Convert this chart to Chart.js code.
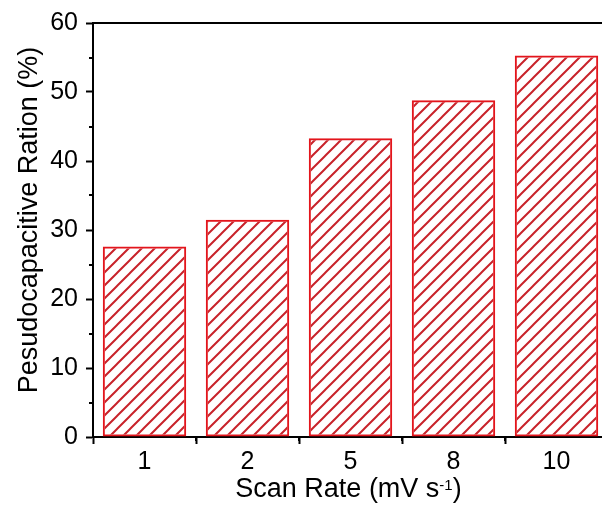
<!DOCTYPE html>
<html>
<head>
<meta charset="utf-8">
<script src="https://cdn.jsdelivr.net/npm/chart.js@4/dist/chart.umd.min.js"></script>
<style>
  html, body { margin: 0; padding: 0; background: #fff; overflow: hidden; }
  #wrap { width: 602px; height: 511px; overflow: hidden; }
</style>
</head>
<body>
<div id="wrap"><canvas id="barChart" width="612" height="511"></canvas></div>
<script>
// data
const scanRates = ['1', '2', '5', '8', '10'];
const pseudoRatio = [27.6, 31.5, 43.3, 48.8, 55.3];
const yMajorTicks = [0, 10, 20, 30, 40, 50, 60];
const yMinorTicks = [5, 15, 25, 35, 45, 55];
const xTitle = 'Scan Rate (mV s';
const xTitleSup = '-1';
const yTitle = 'Pesudocapacitive Ration (%)';

const fontFamily = '"Liberation Sans", Arial, sans-serif';
const barRed = '#e3151c';
const hatchRed = '#c8222a';

// diagonal hatch fill like the origin plot
function makeHatch() {
    const size = 13;
    const c = document.createElement('canvas');
    c.width = size;
    c.height = size;
    const g = c.getContext('2d');
    g.strokeStyle = hatchRed;
    g.lineWidth = 2;
    g.beginPath();
    g.moveTo(0, size); g.lineTo(size, 0);
    g.moveTo(-2, 2); g.lineTo(2, -2);
    g.moveTo(size - 2, size + 2); g.lineTo(size + 2, size - 2);
    g.stroke();
    return g.createPattern(c, 'repeat');
}

// short minor ticks + both axis titles (x one has a superscript)
const extrasPlugin = {
    id: 'extras',
    afterDraw(chart) {
        const { ctx, chartArea, scales } = chart;
        ctx.save();
        ctx.strokeStyle = '#000';
        ctx.lineWidth = 2;
        ctx.beginPath();
        yMinorTicks.forEach(v => {
            const py = Math.round(scales.y.getPixelForValue(v));
            ctx.moveTo(chartArea.left - 4, py);
            ctx.lineTo(chartArea.left, py);
        });
        for (let i = 0; i < scanRates.length; i++) {
            const px = Math.round((scales.x.getPixelForValue(i) + scales.x.getPixelForValue(i + 1)) / 2);
            ctx.moveTo(px, chartArea.bottom);
            ctx.lineTo(px, chartArea.bottom + 4);
        }
        ctx.stroke();

        ctx.fillStyle = '#000';
        ctx.textBaseline = 'alphabetic';

        // x title
        const tail = ')';
        ctx.font = '27px ' + fontFamily;
        const wMain = ctx.measureText(xTitle).width;
        const wTail = ctx.measureText(tail).width;
        ctx.font = '15px ' + fontFamily;
        const wSup = ctx.measureText(xTitleSup).width;
        const cx = (chartArea.left + chartArea.right) / 2 - 2;
        let x = cx - (wMain + wSup + wTail) / 2;
        const base = 497;
        ctx.font = '27px ' + fontFamily;
        ctx.fillText(xTitle, x, base);
        x += wMain;
        ctx.font = '15px ' + fontFamily;
        ctx.fillText(xTitleSup, x, base - 7);
        x += wSup;
        ctx.font = '27px ' + fontFamily;
        ctx.fillText(tail, x, base);

        // y title
        ctx.translate(37, 220);
        ctx.rotate(-Math.PI / 2);
        ctx.textAlign = 'center';
        ctx.font = '27px ' + fontFamily;
        ctx.fillText(yTitle, 0, 0);
        ctx.restore();
    }
};

const ctx = document.getElementById('barChart').getContext('2d');
new Chart(ctx, {
    type: 'bar',
    data: {
        labels: scanRates,
        datasets: [{
            label: yTitle,
            data: pseudoRatio,
            backgroundColor: makeHatch(),
            borderColor: barRed,
            borderWidth: 2,
            borderSkipped: false,
            categoryPercentage: 1,
            barPercentage: 0.81
        }]
    },
    options: {
        responsive: false,
        animation: false,
        devicePixelRatio: 1,
        layout: { padding: { left: 0, right: 4, top: 0, bottom: 0 } },
        plugins: {
            legend: { display: false },
            tooltip: { enabled: false }
        },
        scales: {
            x: {
                position: 'bottom',
                grid: { drawOnChartArea: false, tickLength: 7, tickWidth: 2, tickColor: '#000' },
                border: { display: true, color: '#000', width: 2 },
                ticks: { color: '#000', font: { family: fontFamily, size: 25 }, padding: 3 },
                afterFit(scale) { scale.height = 74; }
            },
            x2: {
                type: 'category',
                position: 'top',
                grid: { display: false },
                border: { display: true, color: '#000', width: 2 },
                ticks: { display: false },
                afterFit(scale) { scale.height = 23; }
            },
            y: {
                min: 0,
                max: 60,
                afterBuildTicks(scale) { scale.ticks = yMajorTicks.map(v => ({ value: v })); },
                grid: { drawOnChartArea: false, tickLength: 7, tickWidth: 2, tickColor: '#000' },
                border: { display: true, color: '#000', width: 2 },
                ticks: { color: '#000', font: { family: fontFamily, size: 25 }, padding: 8 },
                afterFit(scale) { scale.width = 93; }
            }
        }
    },
    plugins: [extrasPlugin]
});
</script>
</body>
</html>
